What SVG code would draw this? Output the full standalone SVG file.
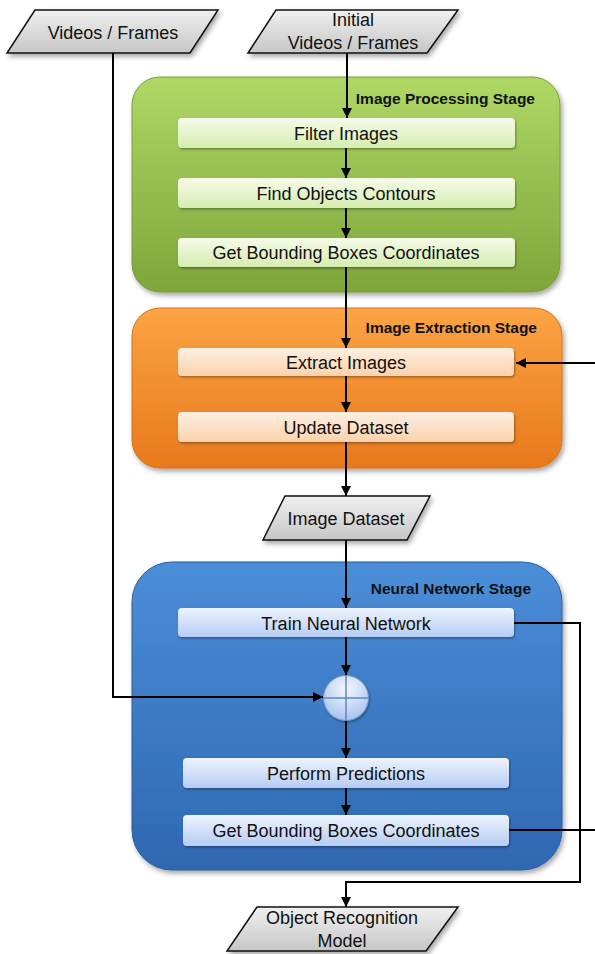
<svg xmlns="http://www.w3.org/2000/svg" width="595" height="954" viewBox="0 0 595 954">
<defs>
<linearGradient id="gGreen" x1="0" y1="0" x2="0" y2="1"><stop offset="0" stop-color="#b0d865"/><stop offset="1" stop-color="#7da53a"/></linearGradient>
<linearGradient id="gOrange" x1="0" y1="0" x2="0" y2="1"><stop offset="0" stop-color="#fca444"/><stop offset="1" stop-color="#e7791c"/></linearGradient>
<linearGradient id="gBlue" x1="0" y1="0" x2="0" y2="1"><stop offset="0" stop-color="#4b8ed8"/><stop offset="1" stop-color="#2f67b1"/></linearGradient>
<linearGradient id="gInG" x1="0" y1="0" x2="0" y2="1"><stop offset="0" stop-color="#f6fbe9"/><stop offset="1" stop-color="#d6edb0"/></linearGradient>
<linearGradient id="gInO" x1="0" y1="0" x2="0" y2="1"><stop offset="0" stop-color="#fef0e2"/><stop offset="1" stop-color="#fbd2ac"/></linearGradient>
<linearGradient id="gInB" x1="0" y1="0" x2="0" y2="1"><stop offset="0" stop-color="#eef3fd"/><stop offset="1" stop-color="#b6cdf4"/></linearGradient>
<linearGradient id="gGray" x1="0" y1="0" x2="0" y2="1"><stop offset="0" stop-color="#f0f0f0"/><stop offset="1" stop-color="#c6c6c6"/></linearGradient>
<radialGradient id="gCirc" cx="0.5" cy="0.3" r="0.7"><stop offset="0" stop-color="#f4f8ff"/><stop offset="1" stop-color="#a9c3ee"/></radialGradient>
<filter id="sh" x="-10%" y="-10%" width="125%" height="130%"><feDropShadow dx="2" dy="3" stdDeviation="2.5" flood-color="#000" flood-opacity="0.35"/></filter>
<filter id="shs" x="-10%" y="-20%" width="125%" height="160%"><feDropShadow dx="1" dy="1.5" stdDeviation="1.2" flood-color="#000" flood-opacity="0.35"/></filter>
<marker id="ah" viewBox="0 0 10 10" refX="10" refY="5" markerWidth="10" markerHeight="10" markerUnits="userSpaceOnUse" orient="auto"><path d="M0,0 L10,5 L0,10 Z" fill="#000"/></marker>
</defs>
<style>
text{font-family:"Liberation Sans",Arial,sans-serif;fill:#111;}
.t{font-size:18px;text-anchor:middle;}
.b{font-size:15.5px;font-weight:bold;text-anchor:end;}
.para{fill:url(#gGray);stroke:#111;stroke-width:1.5;filter:url(#sh);}
.in{stroke:none;filter:url(#shs);}
.c{fill:none;stroke:#000;stroke-width:2;}
</style>

<g id="videos">
<polygon class="para" points="35,10 218,10 190,53 7,53"/>
<text class="t" x="113" y="39">Videos / Frames</text>
</g>
<g id="initial">
<polygon class="para" points="276,10 458,10 427,53 248,53"/>
<text class="t" x="353" y="26">Initial</text>
<text class="t" x="353" y="49">Videos / Frames</text>
</g>

<g id="stage-processing">
<rect x="132" y="77" width="428" height="215" rx="28" fill="url(#gGreen)" stroke="#7a9e3a" stroke-width="1" filter="url(#sh)"/>
<text class="b" x="535" y="104">Image Processing Stage</text>
</g>
<g id="filter"><rect class="in" x="178" y="118" width="337" height="30" rx="4" fill="url(#gInG)"/><text class="t" x="346" y="139.5">Filter Images</text></g>
<g id="contours"><rect class="in" x="178" y="178" width="337" height="30" rx="4" fill="url(#gInG)"/><text class="t" x="346" y="199.5">Find Objects Contours</text></g>
<g id="bbox1"><rect class="in" x="178" y="238" width="337" height="29" rx="4" fill="url(#gInG)"/><text class="t" x="346" y="259">Get Bounding Boxes Coordinates</text></g>

<g id="stage-extraction">
<rect x="132" y="308" width="430" height="160" rx="28" fill="url(#gOrange)" stroke="#d4731c" stroke-width="1" filter="url(#sh)"/>
<text class="b" x="537" y="333">Image Extraction Stage</text>
</g>
<g id="extract"><rect class="in" x="178" y="348" width="336" height="28" rx="4" fill="url(#gInO)"/><text class="t" x="346" y="368.5">Extract Images</text></g>
<g id="update"><rect class="in" x="178" y="412" width="336" height="30" rx="4" fill="url(#gInO)"/><text class="t" x="346" y="433.5">Update Dataset</text></g>

<g id="dataset">
<polygon class="para" points="285,496 430,496 407,540 263,540"/>
<text class="t" x="346" y="525">Image Dataset</text>
</g>

<g id="stage-nn">
<rect x="132" y="562" width="430" height="308" rx="40" fill="url(#gBlue)" stroke="#2d5f9e" stroke-width="1" filter="url(#sh)"/>
<text class="b" x="531" y="594">Neural Network Stage</text>
</g>
<g id="train"><rect class="in" x="178" y="608" width="336" height="29" rx="4" fill="url(#gInB)"/><text class="t" x="346" y="629.5">Train Neural Network</text></g>
<g id="sum">
<circle cx="346" cy="698" r="22.5" fill="url(#gCirc)" stroke="#6e93cc" stroke-width="1" filter="url(#shs)"/>
<path d="M346,675.5 V720.5 M323.5,698 H368.5" stroke="#5f87c4" stroke-width="1.5"/>
</g>
<g id="predict"><rect class="in" x="183" y="758" width="326" height="30" rx="4" fill="url(#gInB)"/><text class="t" x="346" y="779.5">Perform Predictions</text></g>
<g id="bbox2"><rect class="in" x="183" y="815" width="326" height="31" rx="4" fill="url(#gInB)"/><text class="t" x="346" y="837">Get Bounding Boxes Coordinates</text></g>

<g id="model">
<polygon class="para" points="257,907 458,907 426,951 227,951"/>
<text class="t" x="342" y="924">Object Recognition</text>
<text class="t" x="342" y="947">Model</text>
</g>

<g id="connectors">
<path class="c" d="M347,53 V118" marker-end="url(#ah)"/>
<path class="c" d="M346,148 V178" marker-end="url(#ah)"/>
<path class="c" d="M346,208 V238" marker-end="url(#ah)"/>
<path class="c" d="M346,267 V348" marker-end="url(#ah)"/>
<path class="c" d="M346,376 V412" marker-end="url(#ah)"/>
<path class="c" d="M346,442 V496" marker-end="url(#ah)"/>
<path class="c" d="M346,540 V608" marker-end="url(#ah)"/>
<path class="c" d="M346,637 V675" marker-end="url(#ah)"/>
<path class="c" d="M113,53 V697 H323" marker-end="url(#ah)"/>
<path class="c" d="M346,721 V758" marker-end="url(#ah)"/>
<path class="c" d="M346,788 V815" marker-end="url(#ah)"/>
<path class="c" d="M514,623 H580 V882 H346 V907" marker-end="url(#ah)"/>
<path class="c" d="M509,830 H595"/>
<path class="c" d="M595,363 H516" marker-end="url(#ah)"/>
</g>
</svg>
